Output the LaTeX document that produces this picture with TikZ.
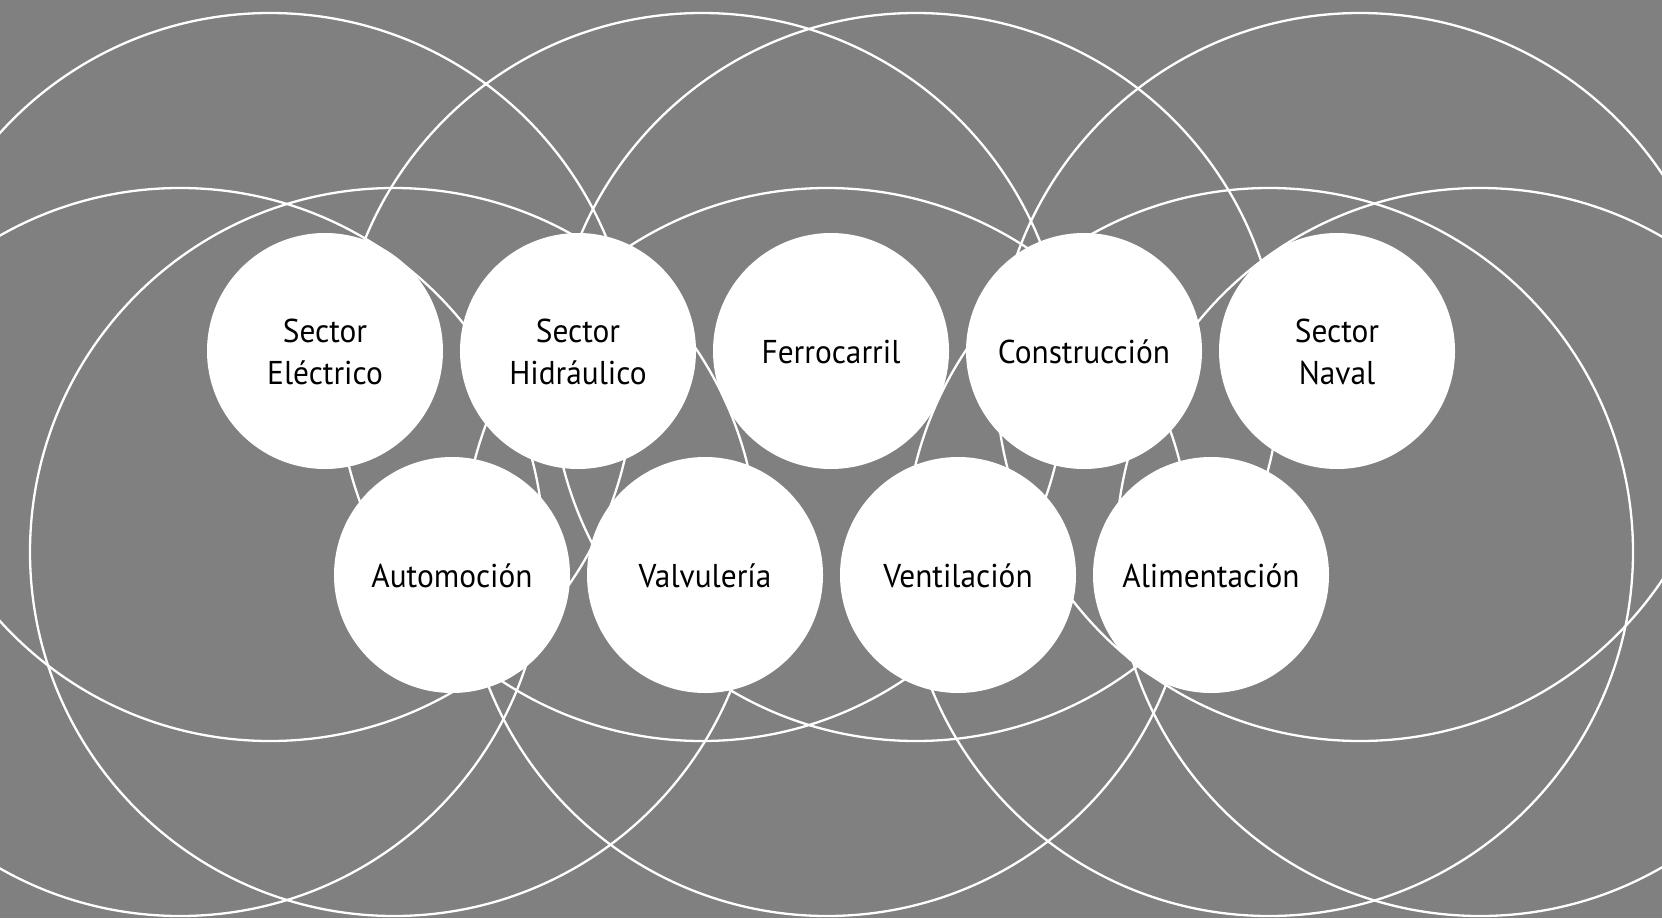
\documentclass[tikz,border=0pt]{standalone}
\usepackage{fontspec}
\setmainfont{PT Sans}[FakeStretch=0.95]
\definecolor{bg}{RGB}{128,128,128}
\begin{document}
\begin{tikzpicture}[x=1pt,y=-1pt,
  ring/.style={draw=white, line width=2.3pt},
  bubble/.style={circle, fill=white, draw=none, minimum size=236pt, inner sep=0pt},
  lbl/.style={font=\fontsize{33}{40}\selectfont, text=black, inner sep=0pt, anchor=base}]
\useasboundingbox (0,0) rectangle (1662,918);
\fill[bg] (0,0) rectangle (1662,918);
\begin{scope}
  \clip (0,0) rectangle (1662,918);
  \foreach \cx in {270,702,916,1360} \draw[ring] (\cx,377) circle[radius=364];
  \foreach \cx in {180,394,827,1269,1480} \draw[ring] (\cx,552) circle[radius=364];
\end{scope}
\node[bubble] (elec) at (325,351) {};
\node[bubble] (hidr) at (578,351) {};
\node[bubble] (ferro) at (831,351) {};
\node[bubble] (cons) at (1084,351) {};
\node[bubble] (naval) at (1337,351) {};
\node[bubble] (auto) at (452,575) {};
\node[bubble] (valv) at (705,575) {};
\node[bubble] (vent) at (958,575) {};
\node[bubble] (alim) at (1211,575) {};
\node[lbl] (elecA) at ([yshift=9pt]elec.center) {Sector};
\node[lbl] (elecB) at ([yshift=-33pt]elec.center) {Eléctrico};
\node[lbl] (hidrA) at ([yshift=9pt]hidr.center) {Sector};
\node[lbl] (hidrB) at ([yshift=-33pt]hidr.center) {Hidráulico};
\node[lbl] (ferroA) at ([yshift=-12pt]ferro.center) {Ferrocarril};
\node[lbl] (consA) at ([yshift=-12pt]cons.center) {Construcción};
\node[lbl] (navalA) at ([yshift=9pt]naval.center) {Sector};
\node[lbl] (navalB) at ([yshift=-33pt]naval.center) {Naval};
\node[lbl] (autoA) at ([yshift=-12pt]auto.center) {Automoción};
\node[lbl] (valvA) at ([yshift=-12pt]valv.center) {Valvulería};
\node[lbl] (ventA) at ([yshift=-12pt]vent.center) {Ventilación};
\node[lbl] (alimA) at ([yshift=-12pt]alim.center) {Alimentación};
\end{tikzpicture}
\end{document}
